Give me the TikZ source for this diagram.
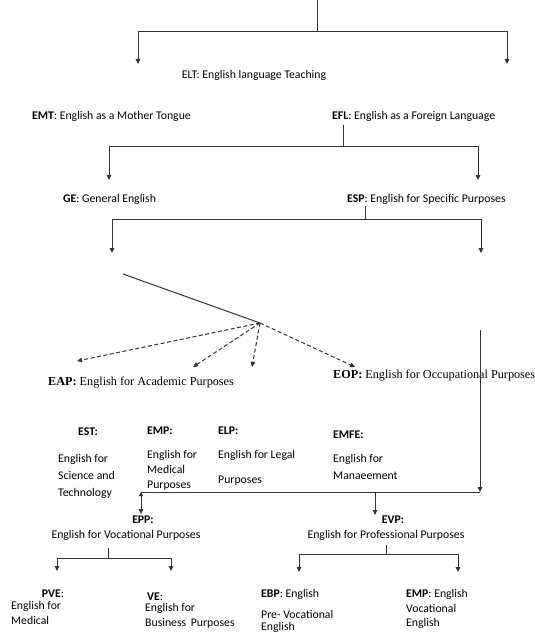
\documentclass[tikz,border=0pt]{standalone}
\usepackage{fontspec}
\setmainfont{Carlito}
\newfontfamily\camfont{Liberation Serif}
\usetikzlibrary{arrows.meta}
\tikzset{
  lbl/.style={font=\fontsize{11.75}{13}\selectfont, inner sep=0pt, text height=8pt, text depth=2.5pt, anchor=west},
  clbl/.style={lbl, anchor=center},
  slbl/.style={font=\camfont\fontsize{12.2}{14}\selectfont, inner sep=0pt, text height=8pt, text depth=2.5pt, anchor=west},
  ln/.style={line width=1pt, draw=black!80},
  arr/.style={ln, -{Triangle[length=5pt,width=4.5pt]}},
  darr/.style={arr, dash pattern=on 4pt off 2.5pt},
  barr/.style={ln, {Triangle[length=4pt,width=4pt]}-{Triangle[length=5pt,width=4.5pt]}}
}
\begin{document}
\begin{tikzpicture}[x=1pt,y=-1pt]
\useasboundingbox (0,0) rectangle (535,634);
\clip (0,0) rectangle (535,634);
\fill[white] (0,0) rectangle (535,634);

% texts
\node[clbl] (elt) at (254,76) {ELT: English language Teaching};
\node[lbl] (emt) at (32,117) {\textbf{EMT}: English as a Mother Tongue};
\node[lbl] (efl) at (332,117) {\textbf{EFL}: English as a Foreign Language};
\node[lbl] (ge) at (63,200) {\textbf{GE}: General English};
\node[lbl] (esp) at (347,200) {\textbf{ESP}: English for Specific Purposes};
\node[slbl] (eop) at (333,376) {\textbf{EOP:} English for Occupational Purposes};
\node[slbl] (eap) at (48,383) {\textbf{EAP:} English for Academic Purposes};

\node[clbl] (est) at (88,433) {\textbf{EST:}};
\node[lbl] (est1) at (58,460) {English for};
\node[lbl] (est2) at (58,477) {Science and};
\node[lbl] (est3) at (58,494) {Technology};

\node[lbl] (emp) at (147,432) {\textbf{EMP:}};
\node[lbl] (emp1) at (147,456) {English for};
\node[lbl] (emp2) at (147,471) {Medical};
\node[lbl] (emp3) at (147,486) {Purposes};

\node[lbl] (elp) at (218,432) {\textbf{ELP:}};
\node[lbl] (elp1) at (218,456) {English for Legal};
\node[lbl] (elp2) at (218,481) {Purposes};

\node[lbl] (emfe) at (333,436) {\textbf{EMFE:}};
\node[lbl] (emfe1) at (333,460) {English for};
\node[lbl] (emfe2) at (333,477) {Manaeement};

\node[clbl] (epp) at (143,521) {\textbf{EPP:}};
\node[clbl] (epp1) at (126,536) {English for Vocational Purposes};
\node[clbl] (evp) at (393,521) {\textbf{EVP:}};
\node[clbl] (evp1) at (386,536) {English for Professional Purposes};

\node[clbl] (pve) at (53,595) {\textbf{PVE}:};
\node[lbl] (pve1) at (11,607) {English for};
\node[lbl] (pve2) at (11,622) {Medical};

\node[lbl] (ve) at (147,598) {\textbf{VE}:};
\node[lbl] (ve1) at (145,609) {English for};
\node[lbl] (ve2) at (145,624) {Business\, Purposes};

\node[lbl] (ebp) at (261,595) {\textbf{EBP}: English};
\node[lbl] (ebp1) at (261,616) {Pre- Vocational};
\node[lbl] (ebp2) at (261,628) {English};

\node[lbl] (emp4) at (406,595) {\textbf{EMP}: English};
\node[lbl] (emp5) at (406,610) {Vocational};
\node[lbl] (emp6) at (406,624) {English};

% coordinates
\coordinate (top) at (317,0);
\coordinate (j1) at (317,32);
\coordinate (t1l) at (138,64);
\coordinate (t1r) at (507,64);
\coordinate (e1) at (343,125);
\coordinate (j2) at (343,146);
\coordinate (t2l) at (109,180);
\coordinate (t2r) at (478,180);
\coordinate (e2) at (365,206);
\coordinate (j3) at (365,219);
\coordinate (t3l) at (112,253);
\coordinate (t3r) at (481,253);
\coordinate (s1) at (123,274);
\coordinate (hub) at (260,323);
\coordinate (d1) at (77,361);
\coordinate (d2) at (193,367);
\coordinate (d3) at (252,367);
\coordinate (d4) at (355,367);
\coordinate (v1) at (480,330);
\coordinate (h1r) at (480,492);
\coordinate (h1l) at (141,492);
\coordinate (h1m) at (375,492);
\coordinate (t4l) at (141,514);
\coordinate (t4r) at (375,515);
\coordinate (p1) at (108,548);
\coordinate (p2) at (108,558);
\coordinate (t5l) at (57,571);
\coordinate (t5r) at (171,571);
\coordinate (q1) at (386,545);
\coordinate (q2) at (386,554);
\coordinate (t6l) at (299,572);
\coordinate (t6r) at (458,572);

% connectors
\draw[ln] (top) -- (j1);
\draw[arr] (j1) -| (t1l);
\draw[arr] (j1) -| (t1r);
\draw[ln] (e1) -- (j2);
\draw[arr] (j2) -| (t2l);
\draw[arr] (j2) -| (t2r);
\draw[ln] (e2) -- (j3);
\draw[arr] (j3) -| (t3l);
\draw[arr] (j3) -| (t3r);
\draw[ln] (s1) -- (hub);
\draw[darr] (hub) -- (d1);
\draw[darr] (hub) -- (d2);
\draw[darr] (hub) -- (d3);
\draw[darr] (hub) -- (d4);
\draw[arr] (v1) -- (h1r);
\draw[ln] (h1r) -- (h1l);
\draw[barr] (h1l) -- (t4l);
\draw[arr] (h1m) -- (t4r);
\draw[ln] (p1) -- (p2);
\draw[arr] (p2) -| (t5l);
\draw[arr] (p2) -| (t5r);
\draw[ln] (q1) -- (q2);
\draw[arr] (q2) -| (t6l);
\draw[arr] (q2) -| (t6r);
\end{tikzpicture}
\end{document}
